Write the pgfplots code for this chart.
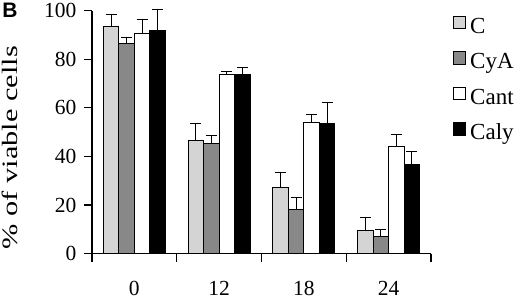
\documentclass[border=0pt]{standalone}
\usepackage{pgfplots}
\pgfplotsset{compat=1.18}
\usepackage{fontspec}
\setmainfont{Liberation Serif}
\setsansfont{Liberation Sans}
\definecolor{cgray}{RGB}{212,212,212}
\definecolor{dgray}{RGB}{136,136,136}
\begin{document}
\begin{tikzpicture}
\begin{axis}[
  name=ax, clip=false,
  scale only axis, width=339bp, height=243bp,
  xmin=-0.5, xmax=3.5, ymin=0, ymax=100,
  axis x line*=bottom, axis y line*=left,
  axis line style={line width=1.2bp, black},
  tick style={line width=1.1bp, black},
  tick align=outside,
  major tick length=8bp, minor tick length=8bp,
  ytick={0,20,...,100},
  xtick={0,1,2,3}, xticklabels={0,12,18,24},
  major x tick style={draw=none},
  minor x tick style={line width=1.1bp, black},
  minor xtick={-0.5,0.5,1.5,2.5,3.5},
  /pgf/number format/assume math mode=true,
  tick label style={font=\fontsize{21.5bp}{25bp}\selectfont},
  xticklabel style={yshift=-16bp},
  yticklabel style={xshift=-4bp},
  ylabel={\scalebox{1.38}[1]{\fontsize{22bp}{26bp}\selectfont \% of viable cells}},
  ylabel style={at={(axis description cs:-0.218,0.436)}, anchor=south, inner sep=0pt},
  ybar=0pt, bar width=15.5bp,
  every axis plot/.append style={draw=black, line width=1bp},
  error bars/y dir=plus, error bars/y explicit,
  error bars/error mark=-,
  error bars/error bar style={line width=1.1bp, black},
  error bars/error mark options={rotate=90, line width=1.1bp, mark size=5.5bp, black},
  legend style={draw=none, fill=none, inner sep=0pt, row sep=13bp,
    at={([xshift=22bp,yshift=-5bp]rel axis cs:1,1)}, anchor=north west,
    font=\fontsize{23bp}{27bp}\selectfont,
    nodes={text height=17bp, text depth=5bp, inner sep=0pt, inner xsep=4bp}},
  legend cell align=left,
  legend image code/.code={\draw[#1, line width=1bp] (0bp,-1.5bp) rectangle (12bp,11bp);},
]
\addplot[fill=cgray] coordinates {(0,93.6) +- (0,4.9) (1,46.4) +- (0,7.0) (2,27.1) +- (0,6.1) (3,9.5) +- (0,5.5)};
\addplot[fill=dgray] coordinates {(0,86.6) +- (0,2.5) (1,45.2) +- (0,3.4) (2,18.3) +- (0,4.9) (3,7.0) +- (0,3.0)};
\addplot[fill=white] coordinates {(0,90.5) +- (0,5.9) (1,73.5) +- (0,1.5) (2,53.8) +- (0,3.3) (3,44.1) +- (0,4.8)};
\addplot[fill=black] coordinates {(0,91.7) +- (0,8.7) (1,73.6) +- (0,3.0) (2,53.4) +- (0,8.9) (3,36.7) +- (0,5.3)};
\legend{C,CyA,Cant,Caly}
\node[anchor=north west, inner sep=0pt, font=\sffamily\bfseries\fontsize{21bp}{24bp}\selectfont] at (rel axis cs:-0.265,1.033) {B};
\end{axis}
\path ([shift={(-92bp,-46bp)}]ax.south west) rectangle ([shift={(89bp,10bp)}]ax.north east);
\end{tikzpicture}
\end{document}
